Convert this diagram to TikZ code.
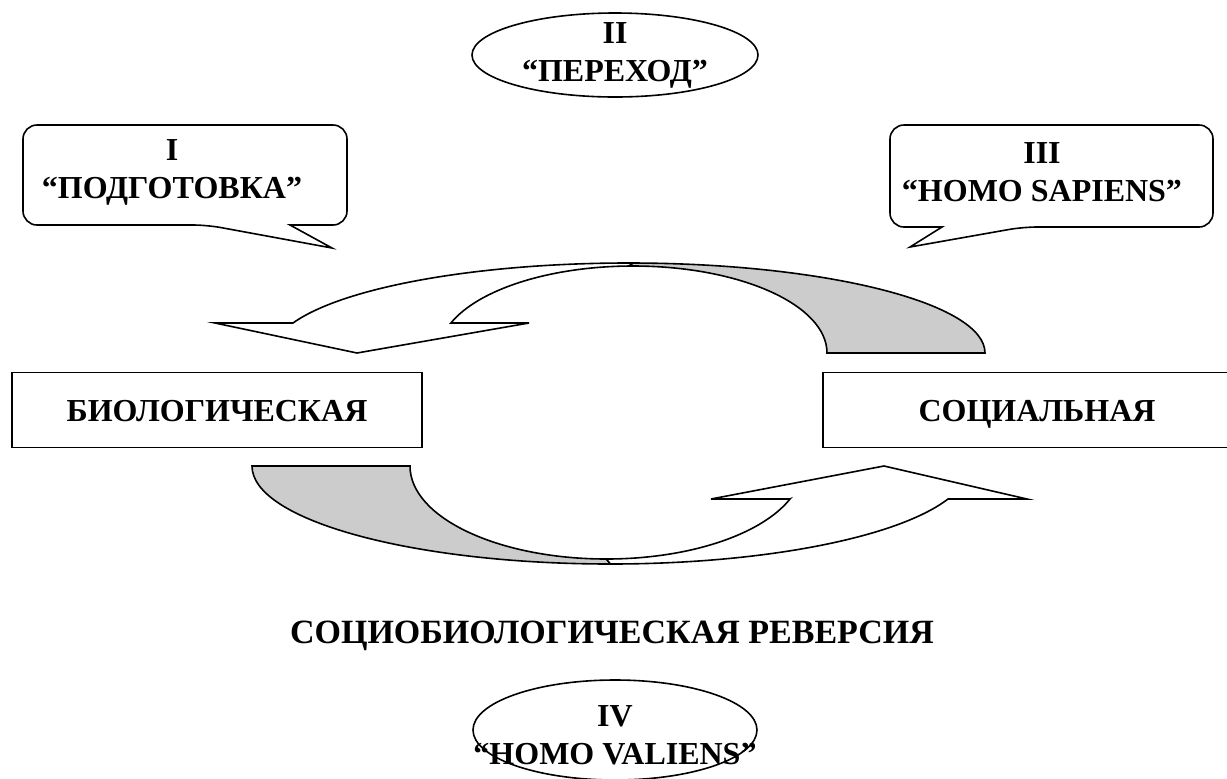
\documentclass[tikz,border=0pt]{standalone}
\usepackage{fontspec}
\setmainfont{Liberation Serif}
\usetikzlibrary{positioning}
\definecolor{backgray}{gray}{0.8}
\tikzset{
  txt/.style={font=\fontsize{16}{19}\selectfont\bfseries, align=center, inner sep=0pt},
  box/.style={draw, line width=0.8pt, minimum height=37.5pt, inner sep=0pt, text height=11pt, text depth=0pt,
    font=\fontsize{16}{19}\selectfont\bfseries},
  shp/.style={draw, line width=0.8pt, line join=miter}
}
\begin{document}
\begin{tikzpicture}[x=0.5pt, y=-0.5pt]
      \useasboundingbox (0,0) rectangle (1227,778);
      \draw[shp] (615,55) ellipse [x radius=143, y radius=42];
      \node[txt] (2) at (615,55) {II\\“ПЕРЕХОД”};
      \draw[shp] (207,225) -- (332,248) -- (290,225) [rounded corners=7pt] -- (347,225)
        -- (347,125) -- (23,125) -- (23,225) -- cycle;
      \node[txt] (1) at (172,172) {I\\“ПОДГОТОВКА”};
      \draw[shp] (1023,227) -- (910,247) -- (942,227) [rounded corners=7pt] -- (890,227)
        -- (890,125) -- (1213,125) -- (1213,227) -- cycle;
      \node[txt] (3) at (1042,172) {III\\“HOMO SAPIENS”};
      \node[box, minimum width=205pt] (bio) at (217,410) {БИОЛОГИЧЕСКАЯ};
      \node[box, minimum width=214pt] (soc) at (1037,410) {СОЦИАЛЬНАЯ};
      % upper arrow
      \draw[shp, fill=backgray] (633,266) arc[start angle=270, end angle=360, x radius=194, y radius=87]
        -- (985,353) arc[start angle=0, end angle=-90, x radius=356.2, y radius=90] -- cycle;
      \draw[shp, fill=white] (451,323) -- (529,323) -- (357,353) -- (215,323) -- (293,323)
        arc[start angle=199.47, end angle=270, x radius=356.2, y radius=90]
        -- (633,266) arc[start angle=270, end angle=200.17, x radius=194, y radius=87] -- cycle;
      % lower arrow
      \draw[shp, fill=backgray] (252,466) -- (410,466)
        arc[start angle=180, end angle=90, x radius=196.4, y radius=93]
        -- (610.5,564) arc[start angle=90, end angle=180, x radius=358.5, y radius=98] -- cycle;
      \draw[shp, fill=white] (790,499) -- (711,499) -- (884,466) -- (1027,499) -- (948,499)
        arc[start angle=19.68, end angle=90, x radius=358.5, y radius=98]
        -- (606.4,559) arc[start angle=90, end angle=20.78, x radius=196.4, y radius=93] -- cycle;
      \node[txt, font=\fontsize{17}{19}\selectfont\bfseries] (rev) at (612,636) {СОЦИОБИОЛОГИЧЕСКАЯ РЕВЕРСИЯ};
      \draw[shp] (615,730) ellipse [x radius=142, y radius=50];
      \node[txt] (4) at (615,735) {IV\\“HOMO VALIENS”};
    \end{tikzpicture}
\end{document}
